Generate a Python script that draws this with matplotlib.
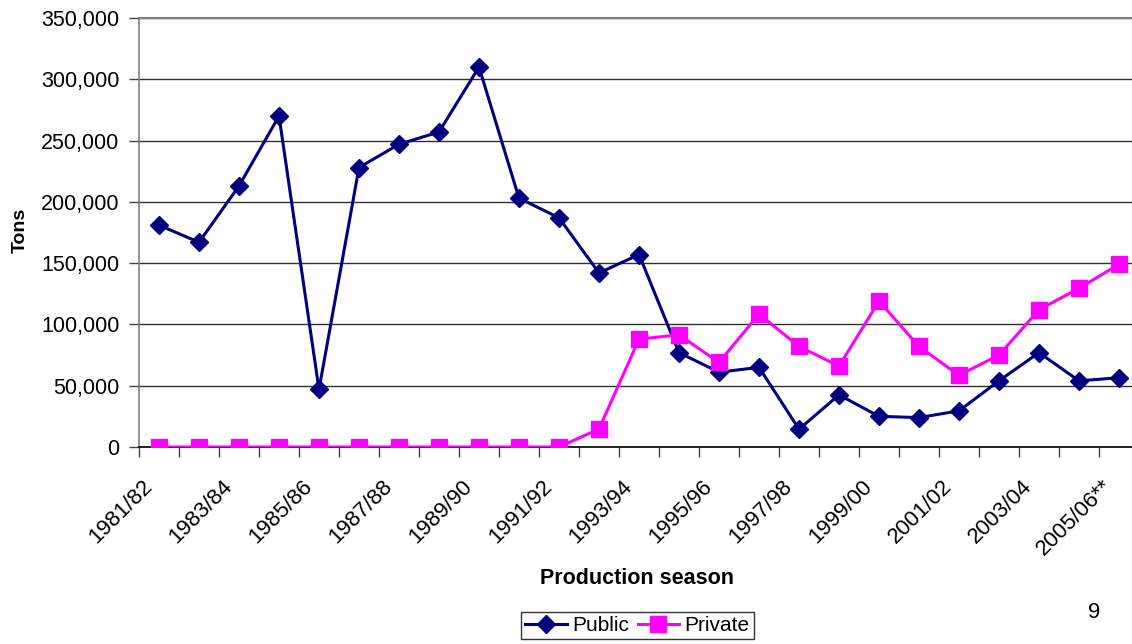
import matplotlib
matplotlib.use("Agg")
import matplotlib.pyplot as plt
from matplotlib.ticker import FuncFormatter, FixedLocator
from matplotlib.transforms import ScaledTranslation
import numpy as np

plt.rcParams["font.family"] = ["Liberation Sans", "DejaVu Sans"]

# ── data ─────────────────────────────────────────────────────────────────────
seasons = ["1981/82", "1982/83", "1983/84", "1984/85", "1985/86", "1986/87",
           "1987/88", "1988/89", "1989/90", "1990/91", "1991/92", "1992/93",
           "1993/94", "1994/95", "1995/96", "1996/97", "1997/98", "1998/99",
           "1999/00", "2000/01", "2001/02", "2002/03", "2003/04", "2004/05",
           "2005/06**"]
public = [181000, 167000, 213000, 270000, 47000, 228000, 247000, 257000,
          310000, 203000, 187000, 142000, 157000, 77000, 61000, 65000,
          14500, 42500, 25000, 24000, 29500, 54000, 77000, 54000, 56500]
private = [0, 0, 0, 0, 0, 0, 0, 0, 0, 0, 0, 14700, 88000, 91500, 69000,
           108500, 82000, 66000, 119000, 82000, 58500, 75000, 112000, 129500,
           149000]
y_ticks = [0, 50000, 100000, 150000, 200000, 250000, 300000, 350000]

x = np.arange(len(seasons))

fig = plt.figure(figsize=(11.32, 6.44), dpi=100)
ax = fig.add_axes([139 / 1132, 1 - 447 / 644, 1000 / 1132, 429 / 644])

ax.plot(x, public, color="#000080", lw=2.2, marker="D", ms=9.5,
        label="Public", zorder=3)
ax.plot(x, private, color="#FF00FF", lw=2.2, marker="s", ms=11,
        label="Private", zorder=4)

ax.set_xlim(-0.5, len(seasons) - 0.5)
ax.set_ylim(0, 350000)
ax.set_yticks(y_ticks)
ax.yaxis.set_major_formatter(FuncFormatter(lambda v, p: "{:,.0f}".format(v)))
ax.grid(axis="y", color="#303030", lw=1.0)
ax.set_axisbelow(True)

# labels every other season at category centres, ticks on category borders
ax.set_xticks(x[::2])
ax.set_xticklabels(seasons[::2], rotation=45, ha="right", va="center",
                   rotation_mode="anchor")
ax.xaxis.set_minor_locator(FixedLocator(np.arange(-0.5, len(seasons), 1.0)))
ax.tick_params(axis="x", which="major", length=0, pad=26, labelsize=16)
ax.tick_params(axis="x", which="minor", length=7, width=1, color="#404040",
               direction="out")
ax.tick_params(axis="y", length=7, width=1, color="#404040", pad=7,
               labelsize=15.5)
shift = ScaledTranslation(-7 / 72, 0, fig.dpi_scale_trans)
for lab in ax.get_xticklabels():
    lab.set_transform(lab.get_transform() + shift)

ax.spines["right"].set_visible(False)
ax.spines["top"].set_color("#808080")
ax.spines["top"].set_linewidth(1.5)
ax.spines["left"].set_color("#808080")
ax.spines["left"].set_linewidth(1.2)
ax.spines["bottom"].set_color("#000000")
ax.spines["bottom"].set_linewidth(1.2)

fig.text(20 / 1132, 1 - 230 / 644, "Tons", rotation=90, ha="center",
         va="center", fontsize=14, fontweight="bold")
fig.text(637 / 1132, 1 - 578 / 644, "Production season", ha="center",
         va="center", fontsize=15.5, fontweight="bold")
fig.text(1094 / 1132, 1 - 612 / 644, "9", ha="center", va="center",
         fontsize=16)

leg = fig.legend(loc="center", bbox_to_anchor=(637.5 / 1132, 1 - 625.5 / 644),
                 ncol=2, fontsize=15, frameon=True, fancybox=False,
                 handlelength=2.0, handletextpad=0.25, columnspacing=0.4,
                 borderpad=0.2)
leg.get_frame().set_edgecolor("#000000")
leg.get_frame().set_linewidth(1.0)

fig.savefig("out.png", dpi=100)
plt.close(fig)
